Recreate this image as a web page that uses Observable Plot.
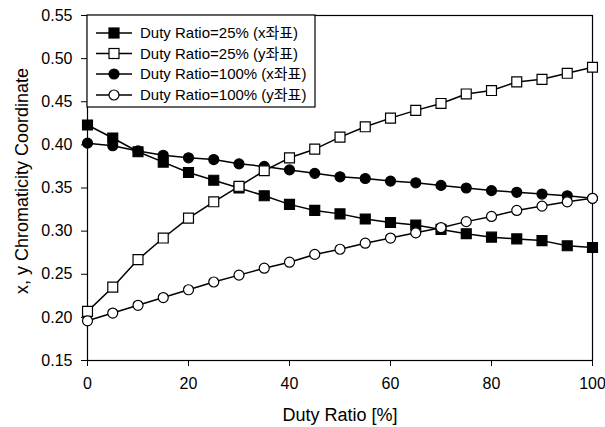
<!DOCTYPE html>
<html><head><meta charset="utf-8">
<script src="https://cdn.jsdelivr.net/npm/d3@7"></script>
<script src="https://cdn.jsdelivr.net/npm/@observablehq/plot@0.6"></script>
<style>body{margin:0;background:#fff}</style>
</head><body><div id="chart"></div>
<script>
// ---- data ----
const duty = [0,5,10,15,20,25,30,35,40,45,50,55,60,65,70,75,80,85,90,95,100];
const x25 = [0.423,0.408,0.392,0.380,0.368,0.359,0.350,0.341,0.331,0.324,0.320,0.314,0.310,0.307,0.302,0.297,0.293,0.291,0.289,0.283,0.281];
const y25 = [0.207,0.235,0.267,0.292,0.315,0.334,0.352,0.370,0.385,0.395,0.409,0.421,0.431,0.440,0.448,0.459,0.463,0.473,0.476,0.483,0.490];
const x100 = [0.402,0.399,0.393,0.388,0.385,0.383,0.378,0.375,0.371,0.367,0.363,0.361,0.358,0.356,0.353,0.350,0.347,0.345,0.343,0.341,0.338];
const y100 = [0.196,0.205,0.214,0.223,0.232,0.241,0.249,0.257,0.264,0.273,0.279,0.286,0.292,0.298,0.304,0.311,0.317,0.324,0.329,0.334,0.338];
const seriesNames = ["Duty Ratio=25% (x좌표)","Duty Ratio=25% (y좌표)","Duty Ratio=100% (x좌표)","Duty Ratio=100% (y좌표)"];
const xTicks = [0,20,40,60,80,100];
const yTicks = [0.15,0.20,0.25,0.30,0.35,0.40,0.45,0.50,0.55];
const xTitle = "Duty Ratio [%]";
const yTitle = "x, y Chromaticity Coordinate";

// ---- build table ----
const seriesValues = [x25, y25, x100, y100];
const symbols = ["square","square","circle","circle"];
const fills = ["black","white","black","white"];
const radii = {square: 5.6, circle: 5};
const rows = [];
seriesValues.forEach((vals, s) => vals.forEach((v, i) => rows.push({s, name: seriesNames[s], x: duty[i], y: v})));
const drawOrder = [0, 2, 1, 3];

const FONT = '"Liberation Sans", Arial, "Noto Sans CJK KR", sans-serif';

const marks = [
  Plot.frame({stroke: "black", strokeWidth: 1.2}),
  Plot.axisY({ticks: yTicks, tickFormat: d3.format(".2f"), tickSize: 6, tickPadding: 9, label: null, fontSize: 16}),
  Plot.axisX({ticks: xTicks, tickFormat: d3.format("d"), tickSize: 6, tickPadding: 11, label: null, fontSize: 16}),
];
for (let s = 0; s < 4; s++) {
  marks.push(Plot.line(rows.filter(d => d.s === s), {x: "x", y: "y", stroke: "black", strokeWidth: 1.5}));
}
for (const s of drawOrder) {
  marks.push(Plot.dot(rows.filter(d => d.s === s), {x: "x", y: "y", symbol: () => symbols[s], r: radii[symbols[s]], fill: fills[s], stroke: "black", strokeWidth: 1.2}));
}
marks.push(Plot.text([xTitle], {frameAnchor: "bottom", dy: 55, textAnchor: "middle", lineAnchor: "middle", fontSize: 18, fill: "black"}));
marks.push(Plot.text([yTitle], {frameAnchor: "left", dx: -65, dy: -7, rotate: -90, textAnchor: "middle", lineAnchor: "middle", fontSize: 18, fill: "black"}));

const chart = Plot.plot({
  width: 605, height: 427,
  marginLeft: 87, marginRight: 13, marginTop: 15, marginBottom: 67,
  x: {domain: [0, 100]},
  y: {domain: [0.15, 0.55]},
  symbol: {type: "identity"},
  style: {fontFamily: FONT, fontSize: "16px", color: "black", background: "white"},
  marks
});
document.getElementById("chart").appendChild(chart);

// ---- legend ----
const svg = d3.select(chart);
const lg = svg.append("g");
lg.append("rect").attr("x", 87).attr("y", 15).attr("width", 228).attr("height", 92)
  .attr("fill", "white").attr("stroke", "black").attr("stroke-width", 1.2);
const rowY = [33, 53.5, 74, 95];
seriesNames.forEach((name, s) => {
  const yy = rowY[s];
  lg.append("line").attr("x1", 96).attr("x2", 132).attr("y1", yy).attr("y2", yy).attr("stroke", "black").attr("stroke-width", 1.5);
  if (symbols[s] === "square") {
    lg.append("rect").attr("x", 114 - 5).attr("y", yy - 5).attr("width", 10).attr("height", 10).attr("fill", fills[s]).attr("stroke", "black").attr("stroke-width", 1.2);
  } else {
    lg.append("circle").attr("cx", 114).attr("cy", yy).attr("r", 5).attr("fill", fills[s]).attr("stroke", "black").attr("stroke-width", 1.2);
  }
  lg.append("text").attr("x", 140).attr("y", yy).attr("dy", "0.35em").attr("text-anchor", "start")
    .attr("font-size", 15).attr("font-family", FONT).attr("fill", "black").text(name);
});
</script></body></html>
